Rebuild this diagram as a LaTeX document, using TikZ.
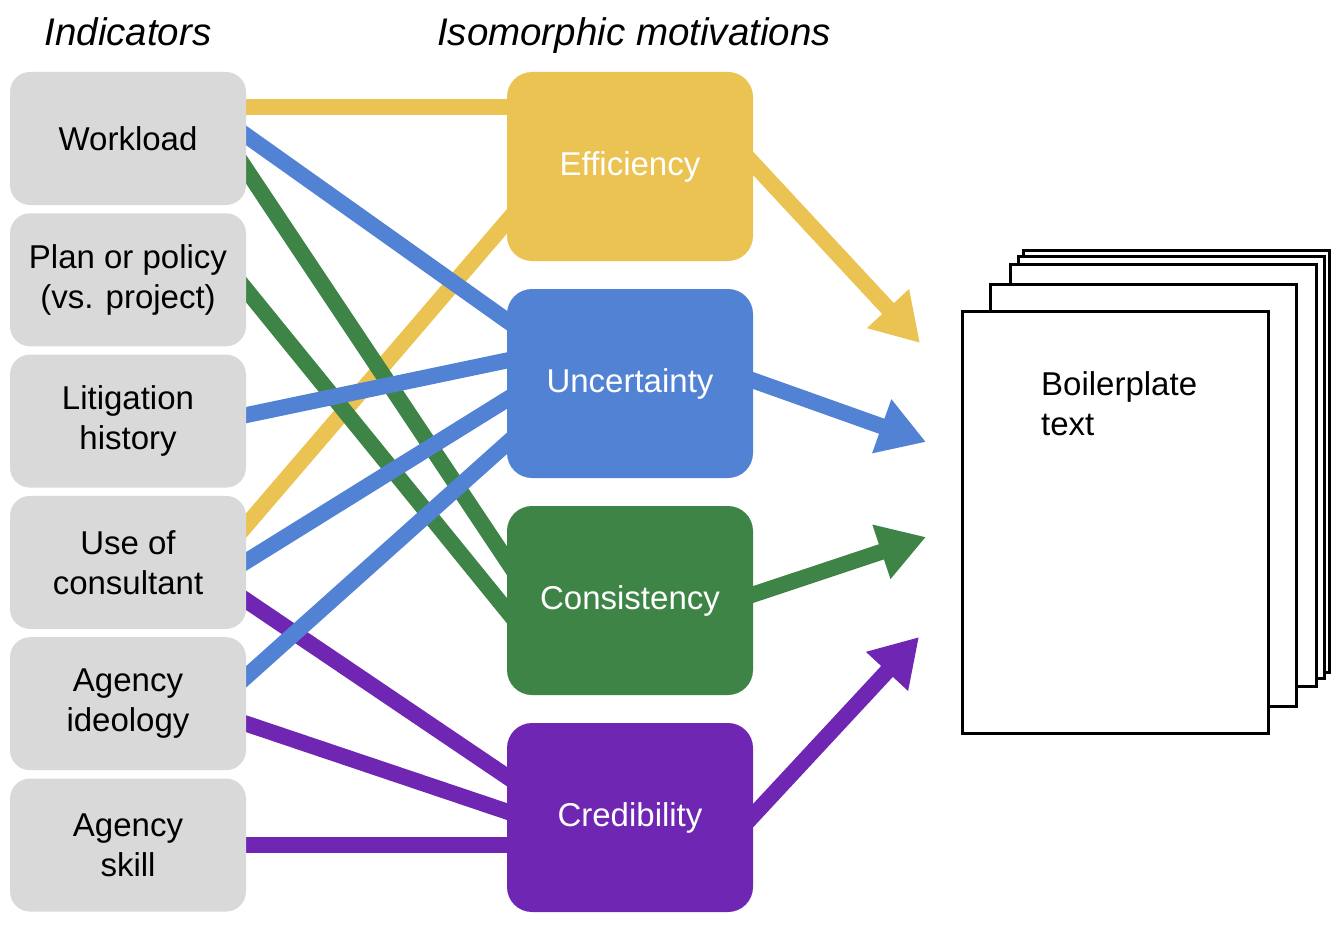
\documentclass[tikz,border=0pt]{standalone}
\usepackage{fontspec}
\setmainfont{Liberation Sans}
\usetikzlibrary{arrows.meta,calc,backgrounds}
\definecolor{boxgray}{HTML}{D9D9D9}
\definecolor{effyellow}{HTML}{EAC352}
\definecolor{uncblue}{HTML}{5282D4}
\definecolor{congreen}{HTML}{3E8446}
\definecolor{credpurple}{HTML}{6E26B3}
\tikzset{
  indbox/.style={fill=boxgray,rounded corners=20pt,minimum width=236pt,minimum height=133pt,
    align=center,font=\fontsize{33}{40}\selectfont},
  motbox/.style={fill=#1,text=white,rounded corners=25pt,minimum width=246pt,minimum height=189pt,
    font=\fontsize{33}{40}\selectfont},
  head/.style={anchor=base,font=\fontsize{38.5}{46}\selectfont\itshape},
  link/.style={draw=#1,line width=16pt,shorten <=-14pt,shorten >=-14pt},
  push/.style={draw=#1,line width=16pt,shorten <=-14pt,-{Triangle[length=47pt,width=54pt]}},
  page/.style={draw,fill=white,line width=3pt,minimum width=306pt,minimum height=422pt}
}
\begin{document}
\begin{tikzpicture}[x=1pt,y=-1pt]
\useasboundingbox (0,0) rectangle (1334,931);
% headings
\node[head] (indhead) at (128,45.5) {Indicators};
\node[head] (mothead) at (634,45.5) {Isomorphic motivations};
% indicators
\node[indbox] (work) at (128,138.5) {Workload};
\node[indbox] (plan) at (128,279.8) {Plan or policy\\(vs. project)};
\node[indbox] (lit) at (128,421.1) {Litigation\\history};
\node[indbox] (use) at (128,562.4) {Use of\\consultant};
\node[indbox] (ideo) at (128,703.7) {Agency\\ideology};
\node[indbox] (skill) at (128,845) {Agency\\skill};
% motivations
\node[motbox=effyellow] (eff) at (630,166.5) {Efficiency};
\node[motbox=uncblue] (unc) at (630,383.5) {Uncertainty};
\node[motbox=congreen] (con) at (630,600.5) {Consistency};
\node[motbox=credpurple] (cred) at (630,817.5) {Credibility};
% stack of pages
\foreach \dx/\dy [count=\i] in {61/-61,56/-55,48/-47,28/-27}
  \node[page] (page\i) at (1115.5+\dx,522.5+\dy) {};
\node[page] (doc) at (1115.5,522.5) {};
\node[anchor=north west,align=left,font=\fontsize{33}{40}\selectfont,inner sep=0pt] (doctext)
  at (1041,371) {Boilerplate\\text};
\coordinate (tipeff) at (920,343);
\coordinate (tipunc) at (926,442);
\coordinate (tipcon) at (926,537);
\coordinate (tipcred) at (919,637);
\begin{pgfonlayer}{background}
% yellow
\draw[link=effyellow] ($(work.east)+(0,-31)$)--($(eff.west)+(0,-59)$);
\draw[link=effyellow] ($(use.east)+(0,-37)$)--($(eff.west)+(0,55)$);
% green
\draw[link=congreen] ($(work.east)+(0,31)$)--($(con.west)+(0,-40)$);
\draw[link=congreen] ($(plan.east)+(0,10)$)--($(con.west)+(0,10)$);
% purple
\draw[link=credpurple] ($(use.east)+(0,38)$)--($(cred.west)+(0,-41)$);
\draw[link=credpurple] ($(ideo.east)+(0,20)$)--($(cred.west)+(0,-6)$);
\draw[link=credpurple] (skill.east)--(skill.east -| cred.west);
% blue
\draw[link=uncblue] ($(work.east)+(0,-3)$)--($(unc.west)+(0,-63)$);
\draw[link=uncblue] ($(lit.east)+(0,-6)$)--($(unc.west)+(0,-23)$);
\draw[link=uncblue] ($(use.east)+(0,-1)$)--($(unc.west)+(0,16)$);
\draw[link=uncblue] ($(ideo.east)+(0,-27)$)--($(unc.west)+(0,60)$);
% to the text
\draw[push=effyellow] ($(eff.east)+(0,-3)$)--(tipeff);
\draw[push=uncblue] ($(unc.east)+(0,-3)$)--(tipunc);
\draw[push=congreen] ($(con.east)+(0,-6)$)--(tipcon);
\draw[push=credpurple] ($(cred.east)+(0,-2)$)--(tipcred);
\end{pgfonlayer}
\end{tikzpicture}
\end{document}
